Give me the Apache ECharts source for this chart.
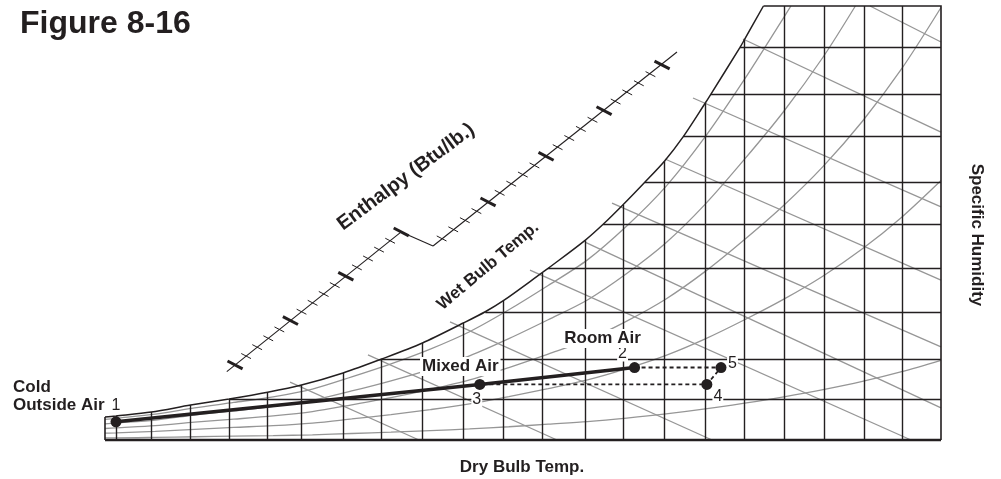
<!DOCTYPE html>
<html><head><meta charset="utf-8">
<script src="https://cdn.jsdelivr.net/npm/echarts@6/dist/echarts.min.js"></script>
<style>html,body{margin:0;padding:0;background:#fff}#c{width:1001px;height:479px}</style>
</head><body><div id="c"></div>
<script>
// ---------- data ----------
// dry bulb grid lines (deg F) and specific humidity grid lines (grains/lb)
const dryBulbGrid = [0, 4.5, 9.5, 14.4, 19.3, 23.6, 28.9, 33.8, 39.0, 44.2, 49.3, 54.2, 59.7, 64.5, 69.8, 75.0, 80.0, 85.0, 90.2, 95.2, 100.1];
const humidityGrid = [18.9, 37.3, 59.1, 79.1, 99.4, 118.8, 139.8, 159.3, 180.8];
// saturation curve [dry bulb, specific humidity]
const saturationCurve = [[-1.4,10.6],[0,11.1],[4.5,12.9],[9.5,16.1],[14.4,18.9],[19.3,22.0],[23.6,25.3],[28.9,30.9],[33.8,37.3],[39.0,44.7],[44.2,53.9],[47.0,59.1],[49.3,64.2],[54.2,77.0],[55.0,79.1],[59.7,92.0],[62.0,99.4],[64.5,108.3],[67.3,118.8],[69.8,128.5],[72.2,139.8],[75.0,155.3],[75.7,159.3],[79.4,180.8],[80.0,184.6],[82.4,200]];
// relative humidity curves (gray)
const rh90 = [[-1.4,9.5],[0,10.0],[5,11.9],[10,14.8],[15,17.3],[20,19.9],[25,23.5],[30,29.1],[35,35.1],[40,41.9],[45,49.9],[50,60.0],[55,71.2],[60,83.0],[65,98.6],[70,116.9],[75,139.8],[80,166.3],[85,194.8],[85.9,200]];
const rh70 = [[-1.4,7.4],[0,7.8],[5,9.2],[10,11.5],[15,13.4],[20,15.5],[25,18.3],[30,22.6],[35,27.3],[40,32.6],[45,38.8],[50,46.7],[55,55.4],[60,64.5],[65,76.7],[70,90.9],[75,108.7],[80,129.4],[85,151.5],[90,176.5],[94.1,200]];
const rh50 = [[-1.4,5.3],[0,5.6],[5,6.6],[10,8.2],[15,9.6],[20,11.1],[25,13.1],[30,16.2],[35,19.5],[40,23.3],[45,27.7],[50,33.4],[55,39.6],[60,46.1],[65,54.8],[70,65.0],[75,77.7],[80,92.4],[85,108.2],[90,126.1],[95,146.9],[100,171.1],[105,199.3]];
const rh30 = [[-1.4,3.2],[0,3.3],[5,4.0],[10,4.9],[15,5.8],[20,6.6],[25,7.8],[30,9.7],[35,11.7],[40,14.0],[45,16.6],[50,20.0],[55,23.7],[60,27.7],[65,32.9],[70,39.0],[75,46.6],[80,55.4],[85,64.9],[90,75.6],[95,88.1],[100,102.7],[105,119.6]];
const rh10 = [[-1.4,1.0],[0,1.0],[5,1.2],[10,1.5],[15,1.8],[20,2.0],[25,2.4],[30,3.0],[35,3.6],[40,4.3],[45,5.1],[50,6.1],[55,7.3],[60,8.5],[65,10.1],[70,12.0],[75,14.3],[80,17.0],[85,19.9],[90,23.2],[95,27.0],[100,31.5],[105,36.7]];
// wet bulb lines (gray) [start, end]
const wetBulbLines = [
  [[22.15,26.7],[38.56,0]], [[32.07,39.2],[56.13,0]], [[42.51,54.4],[75.86,0]], [[52.69,78.3],[101.18,0]],
  [[59.69,91.2],[105,14.8]], [[63.13,109.2],[105,42.9]], [[69.87,129.5],[105,73.7]], [[73.44,157.6],[105,107.4]],
  [[79.80,184.8],[105,141.9]], [[95.97,200],[105,183.4]]
];
// state points
const pointNames = ['1', '2', '3', '4', '5'];
const pointDryBulb = [0, 66.0, 46.3, 75.2, 77.0];
const pointHumidity = [8.4, 33.4, 25.6, 25.6, 33.4];
// enthalpy scale ticks (Btu/lb)
const enthalpyLowerTicks = [10, 11, 12, 13, 14, 15, 16, 17, 18, 19, 20, 21, 22, 23, 24, 25];
const enthalpyUpperTicks = [26, 27, 28, 29, 30, 31, 32, 33, 34, 35, 36, 37, 38, 39, 40, 41, 42, 43, 44, 45];
const enthalpyMajorStep = 5;

// ---------- layout / styles ----------
const X_MIN = -1.4, X_MAX = 105, Y_MIN = 0, Y_MAX = 200;
const INK = '#231f20', GRAY = '#969696';
const FONT = '"Liberation Sans", Arial, Helvetica, sans-serif';

function interp(arr, v, from, to) {
  for (let i = 0; i < arr.length - 1; i++) {
    const a = arr[i], b = arr[i + 1];
    if (v >= a[from] && v <= b[from]) {
      const t = (v - a[from]) / (b[from] - a[from] || 1);
      return a[to] + t * (b[to] - a[to]);
    }
  }
  return null;
}
const satTop = saturationCurve[saturationCurve.length - 1];
const gridSegs = [];
dryBulbGrid.forEach(x => {
  const top = x >= satTop[0] ? Y_MAX : interp(saturationCurve, x, 0, 1);
  gridSegs.push({coords: [[x, Y_MIN], [x, top]]});
});
humidityGrid.forEach(y => {
  gridSegs.push({coords: [[interp(saturationCurve, y, 1, 0), y], [X_MAX, y]]});
});
const frame = [{coords: [[satTop[0], Y_MAX], [X_MAX, Y_MAX], [X_MAX, Y_MIN]]}, {coords: [[X_MIN, Y_MIN], saturationCurve[0]]}];

const P = i => [pointDryBulb[i], pointHumidity[i]];
const labelBase = {show: true, position: 'inside', color: INK, fontFamily: FONT, backgroundColor: '#fff'};
const numLabel = (off) => Object.assign({}, labelBase, {fontSize: 16, offset: off, padding: [0, 1]});
const wordLabel = (off, text) => Object.assign({}, labelBase, {fontSize: 17, fontWeight: 'bold', offset: off, padding: [1, 2], formatter: text});

const rhSeries = [rh90, rh70, rh50, rh30, rh10].map(c => ({
  type: 'line', data: c, smooth: 0.3, showSymbol: false, silent: true, clip: true, z: 2,
  lineStyle: {color: GRAY, width: 1.3}
}));

const chart = echarts.init(document.getElementById('c'));
chart.setOption({
  animation: false,
  grid: {left: 105, right: 60, top: 6, bottom: 39},
  xAxis: {type: 'value', min: X_MIN, max: X_MAX, show: false},
  yAxis: {type: 'value', min: Y_MIN, max: Y_MAX, show: false},
  series: rhSeries.concat([
    {type: 'lines', coordinateSystem: 'cartesian2d', silent: true, clip: false, z: 2,
     lineStyle: {color: GRAY, width: 1.3, opacity: 1},
     data: wetBulbLines.map(l => ({coords: l}))},
    {type: 'lines', coordinateSystem: 'cartesian2d', silent: true, clip: false, z: 3,
     lineStyle: {color: INK, width: 1.4, opacity: 1}, data: gridSegs},
    {type: 'lines', coordinateSystem: 'cartesian2d', polyline: true, silent: true, clip: false, z: 3,
     lineStyle: {color: INK, width: 1.6, opacity: 1}, data: frame},
    {type: 'lines', coordinateSystem: 'cartesian2d', silent: true, clip: false, z: 3,
     lineStyle: {color: INK, width: 2.4, opacity: 1}, data: [{coords: [[X_MIN, Y_MIN], [X_MAX, Y_MIN]]}]},
    {type: 'line', data: saturationCurve, smooth: 0.3, showSymbol: false, silent: true, clip: false, z: 4,
     lineStyle: {color: INK, width: 1.5}},
    {type: 'line', data: [P(0), P(2), P(1)], showSymbol: false, silent: true, z: 6,
     lineStyle: {color: INK, width: 3.5}},
    {type: 'line', data: [P(1), P(4), P(3), P(2)], showSymbol: false, silent: true, z: 6,
     lineStyle: {color: INK, width: 1.8, type: [4, 3]}},
    {type: 'scatter', symbolSize: 11, z: 8, silent: true, itemStyle: {color: INK, opacity: 1},
     data: pointNames.map((n, i) => ({value: P(i), name: n})), label: {show: false}},
    {type: 'scatter', symbolSize: 0, z: 7, silent: true, itemStyle: {color: INK, opacity: 1},
     data: [
       {value: P(0), label: numLabel([0, -16])},
       {value: P(1), label: numLabel([-12, -14])},
       {value: P(2), label: numLabel([-3, 15])},
       {value: P(3), label: numLabel([11, 12])},
       {value: P(4), label: numLabel([11.5, -4])},
       {value: P(1), label: wordLabel([-32, -29], 'Room Air')},
       {value: P(2), label: wordLabel([-19.5, -18], 'Mixed Air')}
     ].map((d, i) => { if (i < 5) d.label.formatter = pointNames[i]; return d; })}
  ])
});

// ---------- enthalpy scale + texts (graphic) ----------
const toPx = v => chart.convertToPixel({gridIndex: 0}, v);
const scaleGeom = {
  lowerStart: [14.1, 31.5], lowerFirst: [15.15, 34.6], lowerLast: [36.3, 95.9],
  notch: [40.35, 89.4], upperFirst: [47.35, 109.7], upperLast: [69.5, 172.8], upperEnd: [71.4, 178.8]
};
const g = {};
Object.keys(scaleGeom).forEach(k => g[k] = toPx(scaleGeom[k]));
const dir = [0.887, 0.461];
const graphics = [];
function seg(a, b, w) {
  graphics.push({type: 'line', silent: true, z: 10, shape: {x1: a[0], y1: a[1], x2: b[0], y2: b[1]}, style: {stroke: INK, lineWidth: w}});
}
seg(g.lowerStart, g.lowerLast, 1.1);
seg(g.lowerLast, g.notch, 1.1);
seg(g.notch, g.upperEnd, 1.1);
function ticks(list, p0, p1, v0, v1) {
  list.forEach(v => {
    const t = (v - v0) / (v1 - v0);
    const c = [p0[0] + t * (p1[0] - p0[0]), p0[1] + t * (p1[1] - p0[1])];
    const major = v % enthalpyMajorStep === 0;
    const h = major ? 8.5 : 5.5;
    seg([c[0] - dir[0] * h, c[1] - dir[1] * h], [c[0] + dir[0] * h, c[1] + dir[1] * h], major ? 3 : 1);
  });
}
ticks(enthalpyLowerTicks, g.lowerFirst, g.lowerLast, 10, 25);
ticks(enthalpyUpperTicks, g.upperFirst, g.upperLast, 30, 45);

function txt(x, y, text, size, weight, rot, align) {
  graphics.push({type: 'text', x: x, y: y, rotation: rot || 0, silent: true, z: 10,
    style: {text: text, fill: INK, font: (weight || 'bold') + ' ' + size + 'px ' + FONT,
      align: align || 'center', verticalAlign: 'middle', lineHeight: 18}});
}
txt(20, 24, 'Figure 8-16', 32, 'bold', 0, 'left');
txt(406, 177, 'Enthalpy (Btu/lb.)', 20, 'bold', 0.64);
txt(488, 266, 'Wet Bulb Temp.', 17, 'bold', 0.70);
txt(977, 235, 'Specific Humidity', 17, 'bold', -Math.PI / 2);
txt(522, 467, 'Dry Bulb Temp.', 17, 'bold', 0);
txt(13, 396, 'Cold\nOutside Air', 17, 'bold', 0, 'left');
chart.setOption({graphic: graphics});
</script>
</body></html>
